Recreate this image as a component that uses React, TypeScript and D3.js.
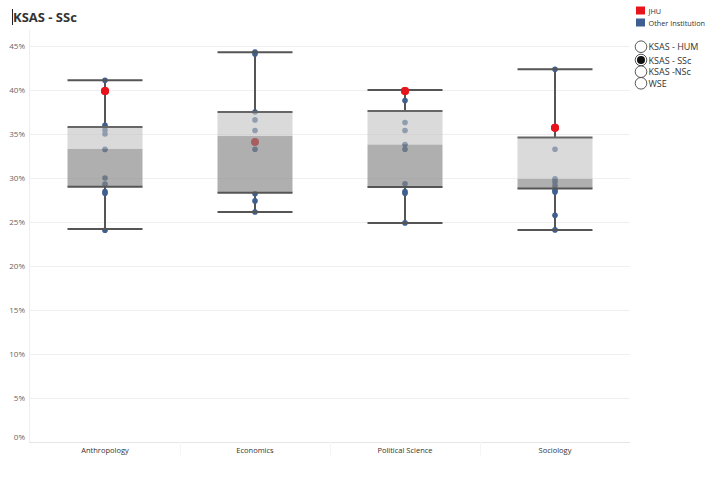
import React from "react";
import * as d3 from "d3";

const categories = ["Anthropology", "Economics", "Political Science", "Sociology"];
const jhuValues = [0.399, 0.341, 0.399, 0.357];
const otherValues: number[][] = [
  [0.411, 0.36, 0.3545, 0.35, 0.3325, 0.30, 0.293, 0.2845, 0.2826, 0.2406],
  [0.443, 0.441, 0.375, 0.366, 0.354, 0.3326, 0.282, 0.274, 0.2614],
  [0.388, 0.363, 0.354, 0.338, 0.3326, 0.2935, 0.2845, 0.2826, 0.249],
  [0.4235, 0.3326, 0.299, 0.2955, 0.291, 0.286, 0.284, 0.2576, 0.241],
];
const whiskerLow = [0.242, 0.2614, 0.249, 0.241];
const q1 = [0.29, 0.2833, 0.2898, 0.288];
const medians = [0.333, 0.3477, 0.338, 0.299];
const q3 = [0.358, 0.375, 0.376, 0.346];
const whiskerHigh = [0.411, 0.443, 0.40, 0.4235];
const yTicks = [0, 0.05, 0.1, 0.15, 0.2, 0.25, 0.3, 0.35, 0.4, 0.45];
const legendItems = ["JHU", "Other Institution"];
const legendColors = ["#e8141c", "#3e5f8f"];
const radioItems = ["KSAS - HUM", "KSAS - SSc", "KSAS -NSc", "WSE"];
const selectedRadio = 1;

const FONT = "'Open Sans', 'Noto Sans', sans-serif";

export default function App() {
  const W = 720, H = 483;
  const y = d3.scaleLinear().domain([0, 0.45]).range([442, 46]);
  const x = d3.scaleBand().domain(categories).range([30, 630]);
  const bw = x.bandwidth() * 0.5;
  const fmt = d3.format(".0%");
  const radioY = [46.7, 60, 71.7, 83.3];

  return (
    <svg width={W} height={H} style={{ position: "absolute", left: 0, top: 0, background: "#fff" }}>
      {/* title */}
      <line x1={12.5} x2={12.5} y1={9} y2={25} stroke="#222" strokeWidth={1} />
      <text x={13} y={22} fontFamily={FONT} fontSize={13} fontWeight={700} fill="#333">KSAS - SSc</text>

      {/* gridlines */}
      {yTicks.map((t) => (
        <line key={"g" + t} x1={29} x2={630} y1={y(t) + 0.5} y2={y(t) + 0.5}
          stroke={t === 0 ? "#e6e6e6" : "#efefef"} strokeWidth={1} />
      ))}
      <line x1={29.5} x2={29.5} y1={30} y2={442} stroke="#eeeeee" />
      {categories.slice(1).map((c) => (
        <line key={"sep" + c} x1={(x(c) as number) + 0.5} x2={(x(c) as number) + 0.5} y1={442} y2={456} stroke="#f6f6f6" />
      ))}

      {/* y tick labels */}
      {yTicks.map((t) => (
        <text key={"t" + t} x={25} y={t === 0 ? 440 : y(t) + 3} textAnchor="end"
          fontFamily={FONT} fontSize={8} fill="#666">{fmt(t)}</text>
      ))}

      {/* x labels */}
      {categories.map((c) => (
        <text key={"x" + c} x={(x(c) as number) + x.bandwidth() / 2} y={452.5} textAnchor="middle"
          fontFamily={FONT} fontSize={7.5} fill="#333">{c}</text>
      ))}

      {categories.map((c, i) => {
        const cx = (x(c) as number) + x.bandwidth() / 2;
        const left = cx - bw / 2;
        return (
          <g key={c}>
            <line x1={cx} x2={cx} y1={y(whiskerHigh[i])} y2={y(q3[i])} stroke="#555" strokeWidth={2} />
            <line x1={cx} x2={cx} y1={y(q1[i])} y2={y(whiskerLow[i])} stroke="#555" strokeWidth={2} />
            {otherValues[i].map((v, j) => (
              <circle key={j} cx={cx} cy={y(v)} r={2.8} fill={legendColors[1]} />
            ))}
            <circle cx={cx} cy={y(jhuValues[i])} r={4} fill={legendColors[0]} />
            <rect x={left} y={y(q3[i])} width={bw} height={y(medians[i]) - y(q3[i])} fill="#c4c4c4" fillOpacity={0.62} />
            <rect x={left} y={y(medians[i])} width={bw} height={y(q1[i]) - y(medians[i])} fill="#858585" fillOpacity={0.66} />
            <line x1={left} x2={left + bw} y1={y(q3[i])} y2={y(q3[i])} stroke="#666" strokeWidth={2} />
            <line x1={left} x2={left + bw} y1={y(q1[i])} y2={y(q1[i])} stroke="#555" strokeWidth={2} />
            <line x1={left} x2={left + bw} y1={y(whiskerHigh[i])} y2={y(whiskerHigh[i])} stroke="#555" strokeWidth={2} />
            <line x1={left} x2={left + bw} y1={y(whiskerLow[i])} y2={y(whiskerLow[i])} stroke="#555" strokeWidth={2} />
          </g>
        );
      })}

      {categories.map((c, i) => {
        const cx = (x(c) as number) + x.bandwidth() / 2;
        const inside = jhuValues[i] < q3[i] && jhuValues[i] > q1[i];
        return inside ? null : <circle key={"j" + c} cx={cx} cy={y(jhuValues[i])} r={4} fill={legendColors[0]} />;
      })}

      {/* legend */}
      {legendItems.map((l, i) => (
        <g key={l}>
          <rect x={636} y={6.5 + i * 12} width={9} height={8} fill={legendColors[i]} />
          <text x={648.5} y={13.5 + i * 12} fontFamily={FONT} fontSize={7.3} fill="#333">{l}</text>
        </g>
      ))}

      {/* radio buttons */}
      {radioItems.map((r, i) => {
        const cy = radioY[i];
        return (
          <g key={r}>
            <circle cx={641} cy={cy} r={5.8} fill="#fff" stroke="#444" strokeWidth={0.9} />
            {i === selectedRadio && <circle cx={641} cy={cy} r={4} fill="#111" />}
            <text x={648.5} y={cy + 3.5} fontFamily={FONT} fontSize={9} fill="#333">{r}</text>
          </g>
        );
      })}
    </svg>
  );
}
